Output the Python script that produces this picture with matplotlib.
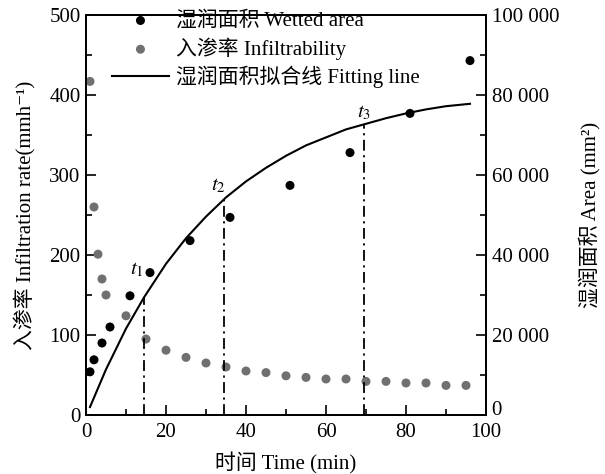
import matplotlib
matplotlib.use('agg')
import matplotlib.pyplot as plt
import matplotlib.transforms as mtransforms
from matplotlib.ticker import MultipleLocator, FixedLocator, FuncFormatter

plt.rcParams['font.family'] = ['Liberation Serif', 'Noto Sans CJK SC', 'DejaVu Serif']
plt.rcParams['mathtext.fontset'] = 'stix'
plt.rcParams['font.size'] = 15

# wetted area (mm^2) vs time (min)
areaTime = [1, 2, 4, 6, 11, 16, 26, 36, 51, 66, 81, 96]
areaVals = [10800, 13800, 18000, 22000, 29800, 35600, 43600, 49400, 57400, 65600, 75400, 88600]

# infiltrability (mm/h) vs time (min)
infTime = [1, 2, 3, 4, 5, 10, 15, 20, 25, 30, 35, 40, 45, 50, 55, 60, 65, 70, 75, 80, 85, 90, 95]
infVals = [417, 260, 201, 170, 150, 124, 95, 81, 72, 65, 60, 55, 53, 49, 47, 45, 45, 42, 42, 40, 40, 37, 37]

# fitting line
fitTime = [1, 5, 10, 14.5, 20, 25, 30, 35, 40, 45, 50, 55, 60, 65, 70, 75, 80, 85, 90, 96]
fitArea = [2000, 11400, 21600, 29400, 37800, 44200, 49600, 54400, 58400, 61800,
           64800, 67400, 69400, 71400, 72800, 74200, 75400, 76400, 77200, 77800]

# t1, t2, t3 markers
tNames = ['$t_1$', '$t_2$', '$t_3$']
tTimes = [14.5, 34.6, 69.5]
tAreas = [29400, 54000, 72600]

rightTicks = [0, 20000, 40000, 60000, 80000, 100000]

fig = plt.figure(figsize=(6.05, 4.74), dpi=100)
ax = fig.add_axes([86/605, 59/474, 400/605, 400/474])
ax2 = ax.twinx()

grayColor = '#707070'
hInf = ax.scatter(infTime, infVals, s=42, color=grayColor, edgecolors='none', zorder=3)
hArea = ax2.scatter(areaTime, areaVals, s=42, color='black', edgecolors='none', zorder=3)
hFit, = ax2.plot(fitTime, fitArea, color='black', lw=1.5)
ax2.vlines(tTimes, 0, tAreas, colors='black', linestyles=(0, (6, 2.5, 1.2, 2.5)), lw=1.3)

offsets = [(-5, 13), (-4, 3), (0, 2)]
for name, t, a, off in zip(tNames, tTimes, tAreas, offsets):
    ax2.annotate(name, (t, a), xytext=off, textcoords='offset points',
                 ha='center', va='bottom', fontsize=15)

ax.set_xlim(0, 100)
ax.set_ylim(0, 500)
ax2.set_ylim(0, 100000)
ax.xaxis.set_major_locator(MultipleLocator(20))
ax.xaxis.set_minor_locator(MultipleLocator(10))
ax.yaxis.set_major_locator(MultipleLocator(100))
ax.yaxis.set_minor_locator(MultipleLocator(50))
ax2.yaxis.set_major_locator(FixedLocator(rightTicks))
ax2.yaxis.set_minor_locator(MultipleLocator(10000))
ax2.yaxis.set_major_formatter(FuncFormatter(lambda v, p: f'{int(v):,}'.replace(',', ' ')))

for a in (ax, ax2):
    a.tick_params(which='major', direction='in', length=7, width=1.2, labelsize=15)
    a.tick_params(which='minor', direction='in', length=4, width=1.2)
    for s in a.spines.values():
        s.set_linewidth(1.3)
ax.tick_params(axis='x', which='both', top=False, pad=6)
ax.tick_params(axis='y', pad=4)
ax2.tick_params(axis='y', pad=4)

ax.set_xlabel('时间 Time (min)', fontsize=15, labelpad=7)
ax.set_ylabel('入渗率 Infiltration rate(mmh⁻¹)', fontsize=15, labelpad=9)
ax2.set_ylabel('湿润面积 Area (mm²)', fontsize=15, labelpad=14)

ax.legend([hArea, hInf, hFit],
          ['湿润面积 Wetted area', '入渗率 Infiltrability', '湿润面积拟合线 Fitting line'],
          loc='upper left', bbox_to_anchor=(0.045, 1.03), frameon=False,
          fontsize=15, labelspacing=0.3, handlelength=2.7, handletextpad=0.35,
          borderaxespad=0)

# lift the right-hand "0" a little so it clears the x tick label "100"
fig.canvas.draw()
zeroTick = ax2.yaxis.get_major_ticks()[0]
zeroTick.label2.set_transform(zeroTick.label2.get_transform() +
                              mtransforms.ScaledTranslation(0, 5/72, fig.dpi_scale_trans))

fig.savefig('out.png', dpi=100)
